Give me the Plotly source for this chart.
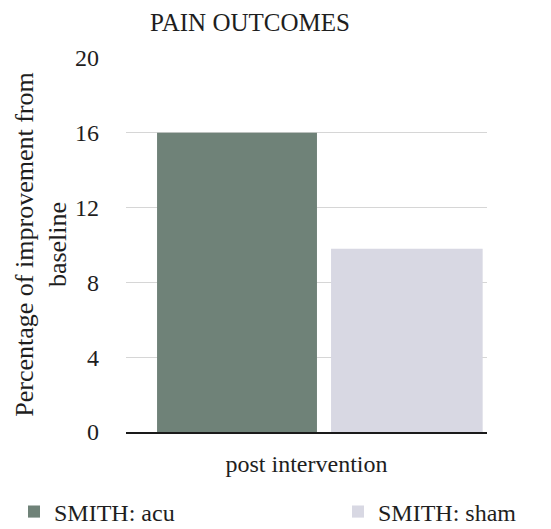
import plotly.graph_objects as go

# Pain outcome: percentage of improvement from baseline, post intervention
categories = ["post intervention"]
series_names = ["SMITH: acu", "SMITH: sham"]
acu_values = [16.0]
sham_values = [9.8]
y_ticks = [0, 4, 8, 12, 16, 20]

ACU_COLOR = "#6f8278"
SHAM_COLOR = "#d8d8e3"
FONT = "'Liberation Serif', 'DejaVu Serif', serif"
TEXT_COLOR = "#1e1e1e"

fig = go.Figure()
fig.add_trace(go.Bar(
    x=categories, y=acu_values, name=series_names[0],
    marker=dict(color=ACU_COLOR, line=dict(width=0)),
    width=0.443, offset=-0.414, legend="legend",
))
fig.add_trace(go.Bar(
    x=categories, y=sham_values, name=series_names[1],
    marker=dict(color=SHAM_COLOR, line=dict(width=0)),
    width=0.42, offset=0.068, legend="legend2",
))

legend_common = dict(
    orientation="h", yanchor="middle", yref="container", xref="container",
    xanchor="left", y=1 - 512 / 529,
    font=dict(family=FONT, size=24, color=TEXT_COLOR),
    itemwidth=30, bgcolor="rgba(0,0,0,0)",
)

fig.update_layout(
    width=551, height=529,
    margin=dict(l=126, r=64, t=57, b=97, autoexpand=False),
    paper_bgcolor="white", plot_bgcolor="white",
    font=dict(family=FONT, size=24, color=TEXT_COLOR),
    title=dict(
        text="PAIN OUTCOMES", x=250 / 551, xanchor="center",
        xref="container", y=1 - 22 / 529, yanchor="middle", yref="container",
        font=dict(family=FONT, size=25, color=TEXT_COLOR),
    ),
    barmode="overlay",
    showlegend=True,
    legend=dict(legend_common, x=14 / 551),
    legend2=dict(legend_common, x=338 / 551),
)

fig.update_xaxes(
    type="category", range=[-0.5, 0.5],
    showgrid=False, showline=True, linecolor="#1a1a1a", linewidth=2,
    ticks="", ticklabelstandoff=9, automargin=False,
    tickfont=dict(family=FONT, size=24, color=TEXT_COLOR),
)
fig.update_yaxes(
    range=[0, 20.05], tickvals=y_ticks,
    showgrid=True, gridcolor="#d6d6d6", gridwidth=1,
    zeroline=False, showline=False, ticks="", ticklabelstandoff=26,
    tickfont=dict(family=FONT, size=24, color=TEXT_COLOR),
    title=dict(
        text="Percentage of improvement from<br>baseline",
        font=dict(family=FONT, size=26, color=TEXT_COLOR), standoff=0,
    ),
    automargin=False,
)

fig.write_html("out.html")
